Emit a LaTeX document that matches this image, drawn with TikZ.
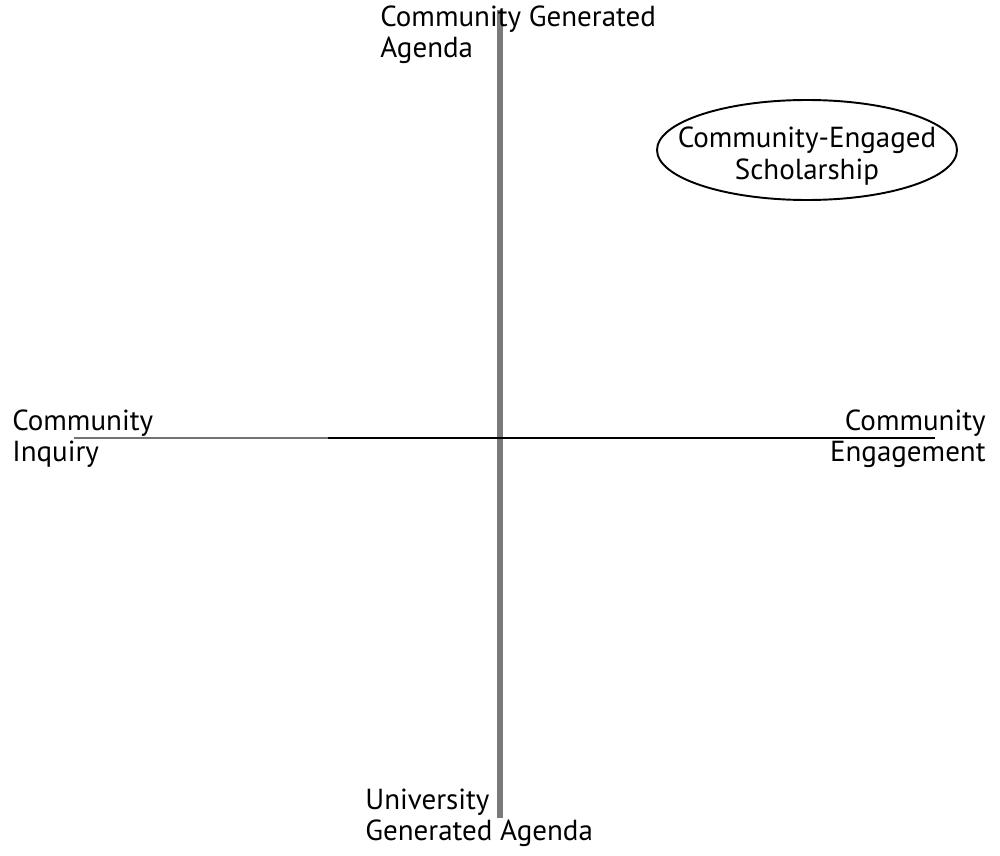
\documentclass[tikz,border=0pt]{standalone}
\usepackage{fontspec}
\setmainfont{PT Sans}
\usetikzlibrary{shapes.geometric}
\begin{document}
\begin{tikzpicture}[x=0.02cm,y=-0.02cm,
  lbl/.style={inner sep=0pt,font=\fontsize{16.5}{17.8}\selectfont,text=black},
  vaxis/.style={draw=black!52,line width=3.4pt},
  haxisgray/.style={draw=black!55,line width=1.5pt},
  haxis/.style={draw=black,line width=1.2pt}
]
\useasboundingbox (0,0) rectangle (1000,855);
\coordinate (vtop) at (500,10);
\coordinate (vbot) at (500,818);
\coordinate (hleft) at (74,438);
\coordinate (hmid) at (328,438);
\coordinate (hright) at (935,438);
\draw[vaxis] (vtop) -- (vbot);
\draw[haxisgray] (hleft) -- (hmid);
\draw[haxis] (hmid) -- (hright);
\node[lbl,anchor=west,align=left] (cga) at (380,35) {Community Generated\\Agenda};
\node[lbl,anchor=west,align=left] (ci) at (12,439) {Community\\Inquiry};
\node[lbl,anchor=east,align=right] (ce) at (986,439) {Community\\Engagement};
\node[lbl,anchor=west,align=left] (uga) at (365,818) {University\\Generated Agenda};
\draw[black,line width=1.1pt] (807,150) ellipse [x radius=150, y radius=50];
\node[lbl,align=center] (ces) at (807,156) {Community-Engaged\\Scholarship};
\end{tikzpicture}
\end{document}
